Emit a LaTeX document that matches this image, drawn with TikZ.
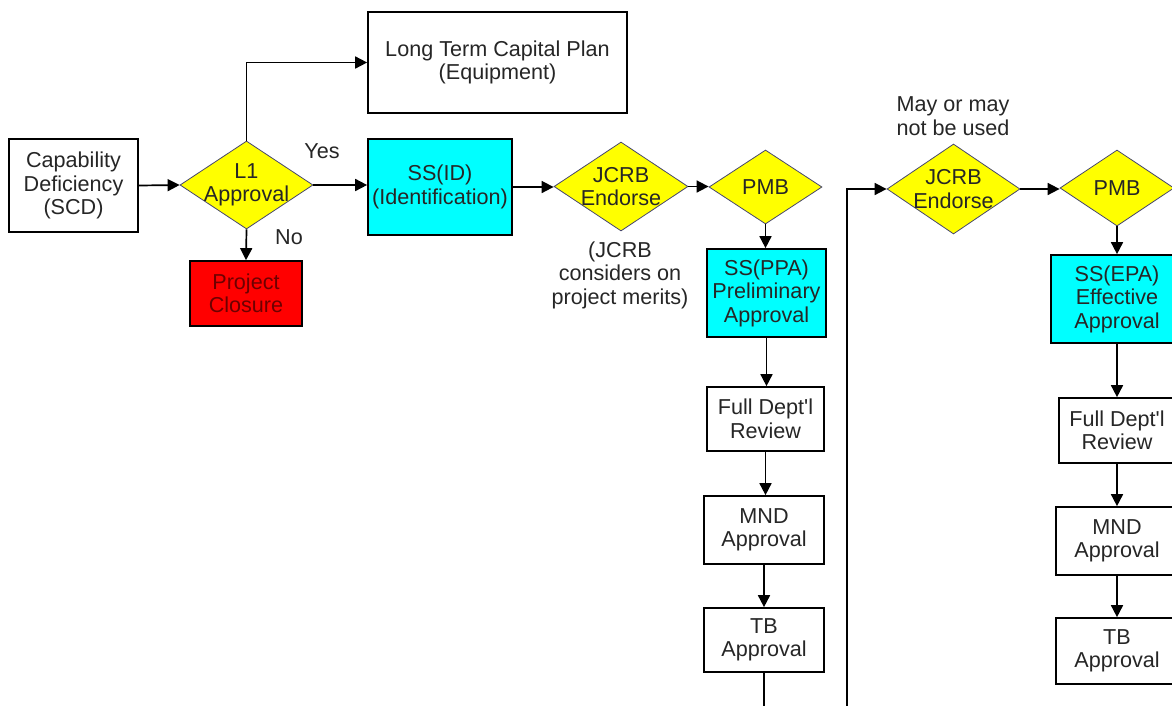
\documentclass[tikz,border=0pt]{standalone}
\usepackage{fontspec}
\setmainfont{Liberation Sans}
\usetikzlibrary{arrows.meta,shapes.geometric}
\definecolor{txt}{rgb}{0.15,0.15,0.15}
\definecolor{decyellow}{RGB}{255,255,0}
\definecolor{stagecyan}{RGB}{0,255,255}
\definecolor{closered}{RGB}{255,0,0}
\definecolor{closetxt}{RGB}{110,0,0}
\definecolor{diamondedge}{RGB}{70,70,110}
\begin{document}
\begin{tikzpicture}[x=1pt,y=-1pt,
  every node/.style={font=\fontsize{21.6}{23.5}\selectfont, text=txt, align=center},
  box/.style={draw=black, line width=1.7pt, rectangle, inner sep=0pt, fill=white},
  stagebox/.style={box, fill=stagecyan},
  closebox/.style={box, fill=closered, text=closetxt},
  decision/.style={diamond, draw=diamondedge, line width=0.8pt, fill=decyellow, inner sep=0pt},
  note/.style={inner sep=0pt},
  flow/.style={draw=black, line width=1.7pt, -{Triangle[length=12pt,width=12pt]}},
  plain/.style={draw=black, line width=1.7pt}
]
\useasboundingbox (0,0) rectangle (1172,705);

% --- left part: request and first decision
\node[box, minimum width=129pt, minimum height=93pt] (cap) at (73.5,185.5)
  {Capability\\Deficiency\\(SCD)};
\node[decision, minimum width=133pt, minimum height=88pt,
  label={[align=center]center:L1\\Approval}] (l1) at (246.5,185) {};
\node[box, minimum width=259pt, minimum height=101pt] (ltcp) at (497.5,62.5)
  {Long Term Capital Plan\\(Equipment)};
\node[closebox, minimum width=112pt, minimum height=65pt] (close) at (246,293.5)
  {Project\\Closure};
\node[stagebox, minimum width=144pt, minimum height=96pt] (ssid) at (440,187)
  {SS(ID)\\(Identification)};

\node[note] (yes) at (322,151) {Yes};
\node[note] (no) at (289,237) {No};

% --- preliminary approval branch
\node[decision, minimum width=134pt, minimum height=89pt,
  label={[align=center]center:JCRB\\Endorse}] (jcrb1) at (621,186.5) {};
\node[decision, minimum width=113pt, minimum height=74pt,
  label={center:PMB}] (pmb1) at (765.5,187) {};
\node[note] (merits) at (620,275) {(JCRB\\considers on\\project merits)};
\node[stagebox, minimum width=119pt, minimum height=88pt] (ppa) at (766.5,293)
  {SS(PPA)\\Preliminary\\Approval};
\node[box, minimum width=117pt, minimum height=64pt] (fdr1) at (765.5,419)
  {Full Dept\textquotesingle l\\Review};
\node[box, minimum width=120pt, minimum height=68pt] (mnd1) at (764,530)
  {MND\\Approval};
\node[box, minimum width=120pt, minimum height=64pt] (tb1) at (764,640)
  {TB\\Approval};
\coordinate (tb1out) at (764,710);

% --- effective approval branch
\coordinate (loopin) at (847,710);
\node[note] (maybe) at (953,116) {May or may\\not be used};
\node[decision, minimum width=133pt, minimum height=90pt,
  label={[align=center]center:JCRB\\Endorse}] (jcrb2) at (953.5,189) {};
\node[decision, minimum width=114pt, minimum height=76pt,
  label={center:PMB}] (pmb2) at (1117,188) {};
\node[stagebox, minimum width=132pt, minimum height=88pt] (epa) at (1117,299)
  {SS(EPA)\\Effective\\Approval};
\node[box, minimum width=116pt, minimum height=65pt] (fdr2) at (1117,430.5)
  {Full Dept\textquotesingle l\\Review};
\node[box, minimum width=122pt, minimum height=68pt] (mnd2) at (1117,541)
  {MND\\Approval};
\node[box, minimum width=122pt, minimum height=66pt] (tb2) at (1117,651)
  {TB\\Approval};

% --- connectors
\draw[flow] (cap.east) -- (l1.west);
\draw[flow] (l1.north) |- (ltcp.west);
\draw[flow] (l1.east) -- (l1.east -| ssid.west);
\draw[flow] (l1.south) -- (close.north);
\draw[flow] (ssid.east) -- (ssid.east -| jcrb1.west);
\draw[flow] (jcrb1.east) -- (jcrb1.east -| pmb1.west);
\draw[flow] (pmb1.south) -- (pmb1.south |- ppa.north);
\draw[flow] (ppa.south) -- (ppa.south |- fdr1.north);
\draw[flow] (fdr1.south) -- (fdr1.south |- mnd1.north);
\draw[flow] (mnd1.south) -- (mnd1.south |- tb1.north);
\draw[plain] (tb1.south) -- (tb1out);

\draw[flow] (loopin) |- (jcrb2.west);
\draw[flow] (jcrb2.east) -- (jcrb2.east -| pmb2.west);
\draw[flow] (pmb2.south) -- (epa.north);
\draw[flow] (epa.south) -- (fdr2.north);
\draw[flow] (fdr2.south) -- (mnd2.north);
\draw[flow] (mnd2.south) -- (tb2.north);
\end{tikzpicture}
\end{document}
